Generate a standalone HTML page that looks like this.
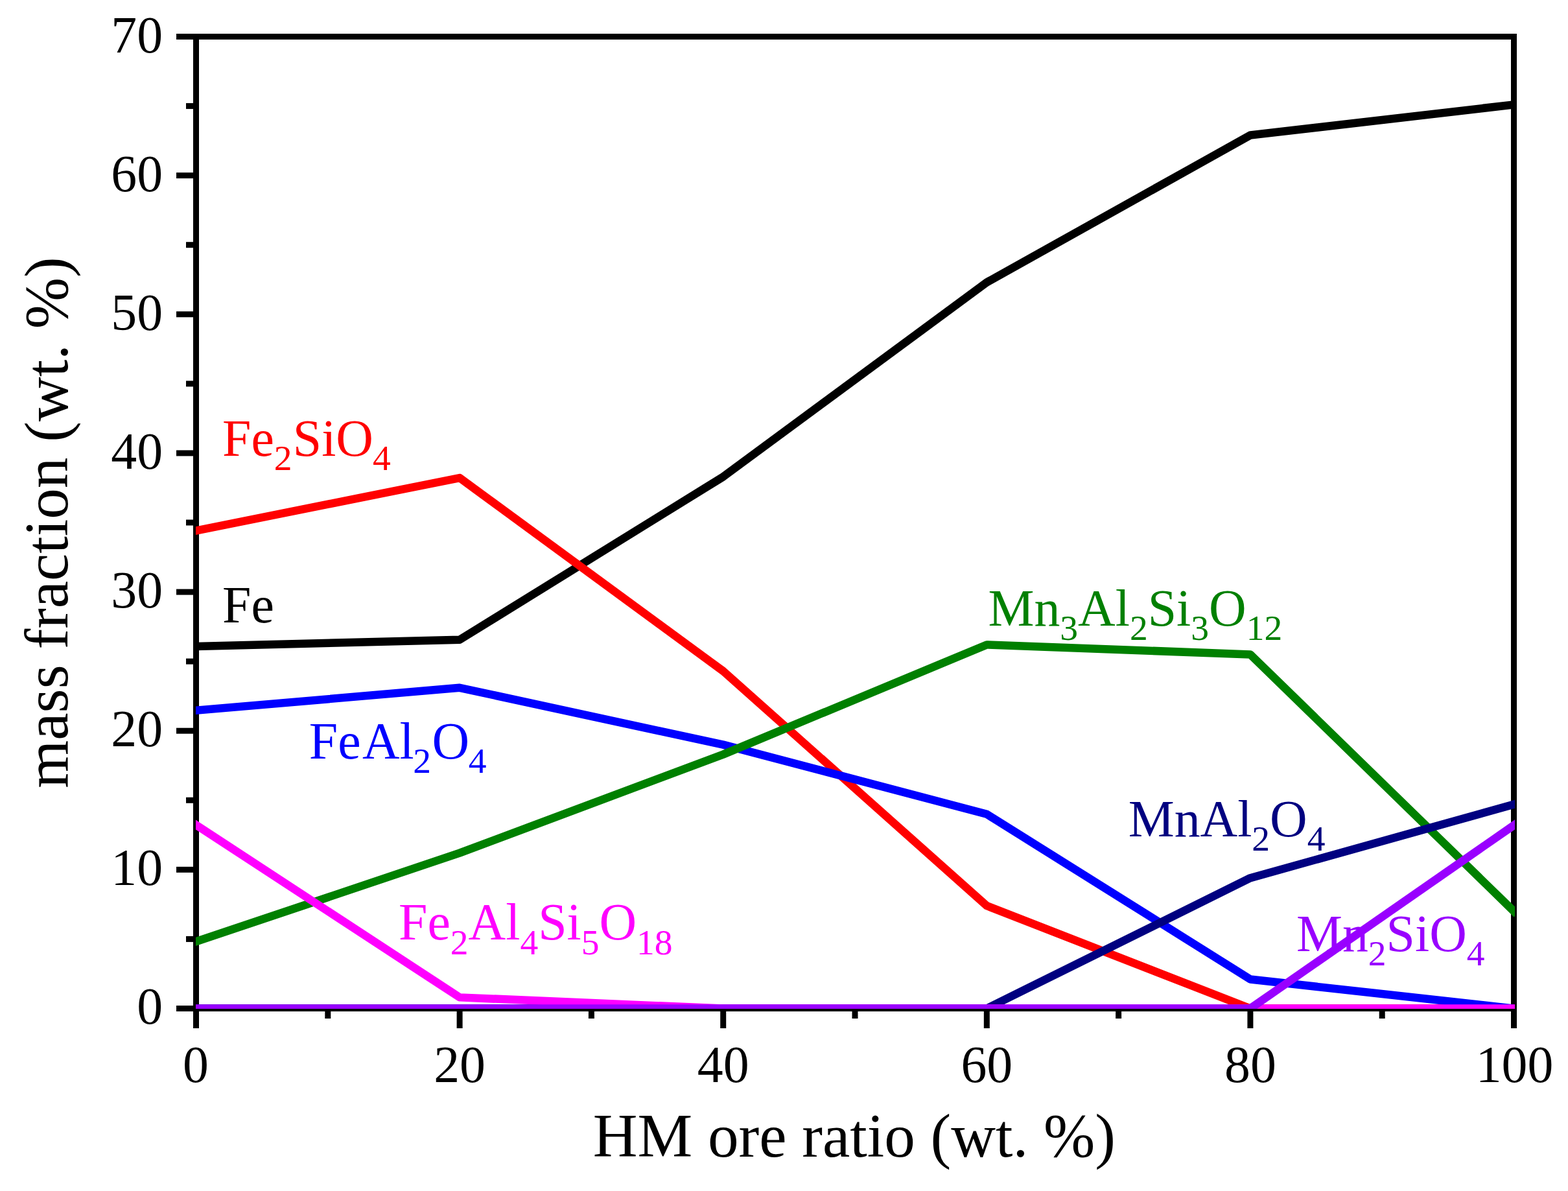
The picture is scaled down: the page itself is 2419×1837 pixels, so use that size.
<!DOCTYPE html>
<html lang="en"><head><meta charset="utf-8"><title>Mass fraction vs HM ore ratio</title>
<style>
html,body{margin:0;padding:0;background:#fff;}
body{width:2419px;height:1837px;overflow:hidden;}
svg{display:block;}
text{font-family:"Liberation Serif","Times New Roman",serif;font-kerning:none;font-variant-ligatures:none;white-space:pre;}
</style></head><body>
<svg xmlns="http://www.w3.org/2000/svg" width="2419" height="1837" viewBox="0 0 2419 1837">
<rect x="0" y="0" width="2419" height="1837" fill="#ffffff"/>
<g stroke="#000" stroke-width="9.00" fill="none" stroke-linecap="butt">
<rect x="302.50" y="56.50" width="2033.00" height="1499.00"/>
<line x1="272.00" y1="1555.50" x2="302.50" y2="1555.50"/>
<line x1="287.00" y1="1448.43" x2="302.50" y2="1448.43"/>
<line x1="272.00" y1="1341.36" x2="302.50" y2="1341.36"/>
<line x1="287.00" y1="1234.29" x2="302.50" y2="1234.29"/>
<line x1="272.00" y1="1127.21" x2="302.50" y2="1127.21"/>
<line x1="287.00" y1="1020.14" x2="302.50" y2="1020.14"/>
<line x1="272.00" y1="913.07" x2="302.50" y2="913.07"/>
<line x1="287.00" y1="806.00" x2="302.50" y2="806.00"/>
<line x1="272.00" y1="698.93" x2="302.50" y2="698.93"/>
<line x1="287.00" y1="591.86" x2="302.50" y2="591.86"/>
<line x1="272.00" y1="484.79" x2="302.50" y2="484.79"/>
<line x1="287.00" y1="377.71" x2="302.50" y2="377.71"/>
<line x1="272.00" y1="270.64" x2="302.50" y2="270.64"/>
<line x1="287.00" y1="163.57" x2="302.50" y2="163.57"/>
<line x1="272.00" y1="56.50" x2="302.50" y2="56.50"/>
<line x1="302.50" y1="1555.50" x2="302.50" y2="1586.00"/>
<line x1="505.80" y1="1555.50" x2="505.80" y2="1571.00"/>
<line x1="709.10" y1="1555.50" x2="709.10" y2="1586.00"/>
<line x1="912.40" y1="1555.50" x2="912.40" y2="1571.00"/>
<line x1="1115.70" y1="1555.50" x2="1115.70" y2="1586.00"/>
<line x1="1319.00" y1="1555.50" x2="1319.00" y2="1571.00"/>
<line x1="1522.30" y1="1555.50" x2="1522.30" y2="1586.00"/>
<line x1="1725.60" y1="1555.50" x2="1725.60" y2="1571.00"/>
<line x1="1928.90" y1="1555.50" x2="1928.90" y2="1586.00"/>
<line x1="2132.20" y1="1555.50" x2="2132.20" y2="1571.00"/>
<line x1="2335.50" y1="1555.50" x2="2335.50" y2="1586.00"/>
</g>
<defs><clipPath id="c"><rect x="302.00" y="52.00" width="2035.00" height="1504.00"/></clipPath></defs>
<g clip-path="url(#c)" fill="none" stroke-width="12.50" stroke-linejoin="round" stroke-linecap="square">
<polyline stroke="#000000" points="302.50,997.02 709.10,986.74 1115.70,735.33 1522.30,435.53 1928.90,208.54 2335.50,161.43"/>
<polyline stroke="#ff0000" points="302.50,818.42 709.10,737.05 1115.70,1035.13 1522.30,1397.03 1928.90,1555.50 2335.50,1555.50"/>
<polyline stroke="#0000ff" points="302.50,1095.74 709.10,1060.83 1115.70,1148.63 1522.30,1255.70 1928.90,1510.53 2335.50,1555.50"/>
<polyline stroke="#008000" points="302.50,1452.28 709.10,1315.66 1115.70,1163.62 1522.30,994.45 1928.90,1009.44 2335.50,1405.60"/>
<polyline stroke="#000080" points="302.50,1555.50 709.10,1555.50 1115.70,1555.50 1522.30,1555.50 1928.90,1354.21 2335.50,1240.71"/>
<polyline stroke="#ff00ff" points="302.50,1272.40 709.10,1538.37 1115.70,1555.50 1522.30,1555.50 1928.90,1555.50 2335.50,1555.50"/>
<polyline stroke="#9900ff" points="302.50,1555.50 709.10,1555.50 1115.70,1555.50 1522.30,1555.50 1928.90,1555.50 2335.50,1272.83"/>
</g>
<g font-size="79.80" fill="#000">
<text x="251.10" y="1579.20" text-anchor="end">0</text>
<text x="251.10" y="1365.20" text-anchor="end">10</text>
<text x="251.10" y="1151.20" text-anchor="end">20</text>
<text x="251.10" y="937.20" text-anchor="end">30</text>
<text x="251.10" y="723.20" text-anchor="end">40</text>
<text x="251.10" y="509.20" text-anchor="end">50</text>
<text x="251.10" y="295.20" text-anchor="end">60</text>
<text x="251.10" y="81.20" text-anchor="end">70</text>
<text x="302.00" y="1669.00" text-anchor="middle">0</text>
<text x="709.10" y="1669.00" text-anchor="middle">20</text>
<text x="1115.70" y="1669.00" text-anchor="middle">40</text>
<text x="1522.30" y="1669.00" text-anchor="middle">60</text>
<text x="1928.90" y="1669.00" text-anchor="middle">80</text>
<text x="2336.50" y="1669.00" text-anchor="middle">100</text>
</g>
<text x="1317.90" y="1783.50" font-size="95.20" text-anchor="middle" fill="#000">HM ore ratio (wt. %)</text>
<text transform="translate(104.00,806.00) rotate(-90)" font-size="95.20" text-anchor="middle" fill="#000">mass fraction (wt. %)</text>
<text x="343.00" y="702.70" font-size="79.80" fill="#ff0000">Fe<tspan font-size="55.50" dy="22.60">2</tspan><tspan dy="-22.60" dx="1.20">SiO</tspan><tspan font-size="55.50" dy="22.60" dx="-1.00">4</tspan></text>
<text x="343.00" y="959.50" font-size="79.80" fill="#000000">Fe</text>
<text x="476.80" y="1169.70" font-size="79.80" fill="#0000ff">Fe<tspan dx="2.30">Al</tspan><tspan font-size="55.50" dy="22.60" dx="-1.60">2</tspan><tspan dy="-22.60" dx="1.70">O</tspan><tspan font-size="55.50" dy="22.60" dx="-1.50">4</tspan></text>
<text x="1524.50" y="964.50" font-size="79.80" fill="#008000">Mn<tspan font-size="55.50" dy="22.60">3</tspan><tspan dy="-22.60">Al</tspan><tspan font-size="55.50" dy="22.60">2</tspan><tspan dy="-22.60">Si</tspan><tspan font-size="55.50" dy="22.60">3</tspan><tspan dy="-22.60">O</tspan><tspan font-size="55.50" dy="22.60">12</tspan></text>
<text x="1740.70" y="1289.70" font-size="79.80" fill="#000080">MnAl<tspan font-size="55.50" dy="22.60">2</tspan><tspan dy="-22.60">O</tspan><tspan font-size="55.50" dy="22.60">4</tspan></text>
<text x="615.00" y="1449.00" font-size="79.80" fill="#ff00ff">Fe<tspan font-size="55.50" dy="22.60">2</tspan><tspan dy="-22.60">Al</tspan><tspan font-size="55.50" dy="22.60">4</tspan><tspan dy="-22.60">Si</tspan><tspan font-size="55.50" dy="22.60">5</tspan><tspan dy="-22.60">O</tspan><tspan font-size="55.50" dy="22.60">18</tspan></text>
<text x="2000.00" y="1466.80" font-size="79.80" fill="#9900ff">Mn<tspan font-size="55.50" dy="22.60">2</tspan><tspan dy="-22.60">SiO</tspan><tspan font-size="55.50" dy="22.60">4</tspan></text>
</svg>
</body></html>
